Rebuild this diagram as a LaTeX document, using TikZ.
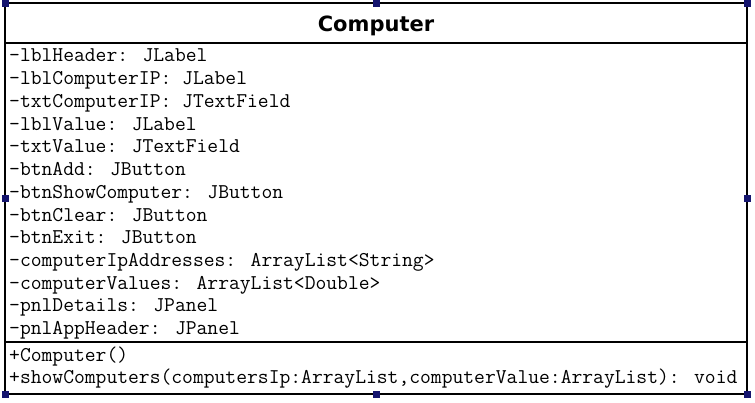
\documentclass[tikz,border=0pt]{standalone}
\usepackage{fontspec}
\newfontfamily\titlefont{DejaVu Sans}
\definecolor{handle}{RGB}{20,20,110}
\begin{document}
\begin{tikzpicture}[x=1pt,y=-1pt,
  frame/.style={draw=black,line width=2pt},
  member/.style={anchor=base west,inner sep=0pt,font=\ttfamily\fontsize{21}{22}\selectfont},
  grip/.style={fill=handle,draw=none,minimum size=7pt,inner sep=0pt}]
  \useasboundingbox (0,0) rectangle (755,402);
  % class box and compartments
  \draw[frame] (5,3) rectangle (747,394);
  \draw[frame] (5,43) -- (747,43);
  \draw[frame] (5,342) -- (747,342);
  \node[anchor=base,inner sep=0pt,font=\titlefont\bfseries\fontsize{21}{24}\selectfont] (title) at (376,31) {Computer};
  % attributes
  \node[member] (a1) at (9,61) {-lblHeader: JLabel};
  \node[member] (a2) at (9,84) {-lblComputerIP: JLabel};
  \node[member] (a3) at (9,107) {-txtComputerIP: JTextField};
  \node[member] (a4) at (9,130) {-lblValue: JLabel};
  \node[member] (a5) at (9,152.5) {-txtValue: JTextField};
  \node[member] (a6) at (9,175) {-btnAdd: JButton};
  \node[member] (a7) at (9,198) {-btnShowComputer: JButton};
  \node[member] (a8) at (9,221) {-btnClear: JButton};
  \node[member] (a9) at (9,243) {-btnExit: JButton};
  \node[member] (a10) at (9,266) {-computerIpAddresses: ArrayList<String>};
  \node[member] (a11) at (9,289) {-computerValues: ArrayList<Double>};
  \node[member] (a12) at (9,311) {-pnlDetails: JPanel};
  \node[member] (a13) at (9,334) {-pnlAppHeader: JPanel};
  % operations
  \node[member] (m1) at (9,361.5) {+Computer()};
  \node[member] (m2) at (9,383) {+showComputers(computersIp:ArrayList,computerValue:ArrayList): void};
  % selection handles
  \foreach \p/\n in {{5,3}/h1,{376,3}/h2,{747,3}/h3,{5,198}/h4,{747,198}/h5,{5,394}/h6,{376,394}/h7,{747,394}/h8}
    \node[grip] (\n) at (\p) {};
\end{tikzpicture}
\end{document}
